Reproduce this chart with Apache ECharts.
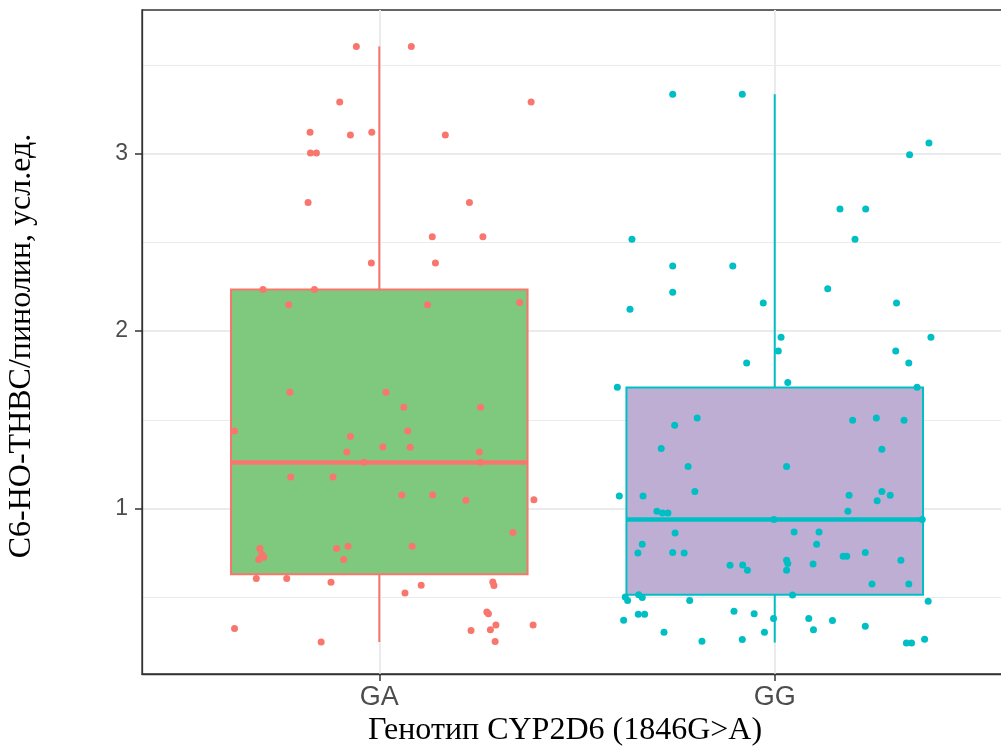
<!DOCTYPE html>
<html>
<head>
<meta charset="utf-8">
<title>CYP2D6 boxplot</title>
<script src="https://cdn.jsdelivr.net/npm/echarts@6/dist/echarts.min.js"></script>
<style>
  html, body { margin: 0; padding: 0; background: #fff; }
  #chart { width: 1001px; height: 749px; }
</style>
</head>
<body>
<div id="chart"></div>
<script>
// categories and tick labels
const categories = ['GA', 'GG']
const yTicks = [1, 2, 3]
const yMinorTicks = [0.5, 1.5, 2.5, 3.5]

// box stats: [lower whisker, Q1, median, Q3, upper whisker]
const boxGA = [0.248, 0.630, 1.259, 2.234, 3.604]
const boxGG = [0.245, 0.515, 0.938, 1.682, 3.334]

// jittered points, GA group (x position on the discrete scale, value)
const gaX = [0.942, 1.081, 0.900, 1.384, 0.825, 0.927, 0.981, 1.167, 0.826, 0.841,
  0.820, 1.228, 1.134, 1.262, 0.980, 1.142, 0.706, 0.836, 0.771, 1.122,
  1.355, 0.774, 1.017, 1.062, 1.256, 0.634, 0.927, 1.072, 1.009, 1.078,
  0.918, 1.253, 0.961, 1.256, 0.776, 0.883, 1.057, 1.135, 1.219, 1.391,
  1.338, 0.698, 0.703, 0.708, 0.695, 0.892, 0.921, 0.910, 1.083, 0.689,
  0.766, 0.878, 1.065, 1.106, 1.287, 1.290, 0.634, 0.853, 1.272, 1.276,
  1.232, 1.281, 1.295, 1.389, 1.293]
const gaY = [3.604, 3.604, 3.291, 3.291, 3.120, 3.105, 3.120, 3.105, 3.003, 3.003,
  2.724, 2.724, 2.532, 2.532, 2.384, 2.384, 2.234, 2.234, 2.149, 2.149,
  2.161, 1.655, 1.655, 1.571, 1.571, 1.437, 1.406, 1.437, 1.347, 1.345,
  1.319, 1.319, 1.261, 1.261, 1.178, 1.178, 1.077, 1.077, 1.047, 1.050,
  0.865, 0.775, 0.743, 0.726, 0.713, 0.775, 0.788, 0.713, 0.788, 0.606,
  0.606, 0.585, 0.525, 0.568, 0.586, 0.566, 0.324, 0.248, 0.417, 0.408,
  0.313, 0.318, 0.344, 0.344, 0.251]

// jittered points, GG group
const ggX = [1.742, 1.918, 2.390, 2.341, 2.165, 2.230, 1.639, 2.203, 1.742, 1.894,
  1.742, 2.134, 1.971, 2.308, 1.634, 2.016, 2.395, 2.009, 2.306, 1.929,
  2.339, 1.602, 2.033, 2.360, 1.804, 1.747, 2.197, 2.257, 2.327, 1.713,
  2.271, 1.781, 2.030, 1.607, 1.667, 1.798, 2.188, 2.271, 2.292, 2.259,
  1.702, 1.716, 1.730, 2.185, 1.998, 2.373, 1.748, 2.049, 2.112, 1.665,
  2.106, 1.654, 1.742, 1.771, 2.229, 2.173, 2.182, 1.887, 1.919, 1.931,
  2.030, 2.033, 2.030, 2.097, 2.319, 2.246, 2.339, 1.622, 1.628, 1.656,
  1.665, 1.785, 2.045, 2.388, 1.655, 1.671, 1.618, 1.897, 1.948, 1.997,
  2.086, 2.146, 2.098, 2.229, 1.720, 1.974, 1.816, 1.918, 2.333, 2.346,
  2.379]
const ggY = [3.334, 3.334, 3.060, 2.994, 2.688, 2.688, 2.517, 2.517, 2.367, 2.367,
  2.219, 2.239, 2.158, 2.158, 2.123, 1.965, 1.965, 1.888, 1.888, 1.820,
  1.820, 1.683, 1.710, 1.683, 1.510, 1.469, 1.497, 1.510, 1.497, 1.338,
  1.334, 1.237, 1.237, 1.071, 1.071, 1.096, 1.075, 1.096, 1.075, 1.044,
  0.985, 0.975, 0.975, 0.985, 0.938, 0.938, 0.863, 0.868, 0.868, 0.799,
  0.799, 0.750, 0.752, 0.750, 0.752, 0.731, 0.731, 0.681, 0.682, 0.652,
  0.709, 0.690, 0.652, 0.688, 0.709, 0.575, 0.575, 0.502, 0.482, 0.515,
  0.499, 0.482, 0.513, 0.478, 0.405, 0.405, 0.371, 0.421, 0.408, 0.380,
  0.380, 0.369, 0.318, 0.337, 0.303, 0.303, 0.252, 0.262, 0.243, 0.243,
  0.264]

const lineColors = ['#F8766D', '#00BFC4']
const fillColors = ['#7FC97F', '#BEAED4']

const zip = (xs, ys) => xs.map((x, i) => [x, ys[i]])

const chart = echarts.init(document.getElementById('chart'))

const axisFont = 'Liberation Sans, Arial, sans-serif'
const titleFont = 'Liberation Serif, Times New Roman, serif'

chart.setOption({
  backgroundColor: '#ffffff',
  animation: false,
  grid: {
    left: 142,
    top: 10,
    width: 870,
    height: 664,
    outerBoundsMode: 'none',
    show: true,
    borderColor: '#333333',
    borderWidth: 1.3,
    backgroundColor: '#ffffff'
  },
  xAxis: {
    type: 'value',
    min: 0.4,
    max: 2.6,
    axisLine: { show: true, onZero: false, lineStyle: { color: '#333333', width: 1.3 } },
    axisTick: { show: true, length: 7, customValues: [1, 2], lineStyle: { color: '#333333', width: 1.5 } },
    axisLabel: {
      customValues: [1, 2],
      formatter: v => categories[Math.round(v) - 1],
      fontSize: 27,
      color: '#4d4d4d',
      fontFamily: axisFont,
      margin: 10
    },
    splitLine: { show: true, lineStyle: { color: '#ebebeb', width: 2 } }
  },
  yAxis: [
    {
      type: 'value',
      min: 0.068,
      max: 3.809,
      axisLine: { show: true, onZero: false, lineStyle: { color: '#333333', width: 1.3 } },
      axisTick: { show: true, length: 7, customValues: yTicks, lineStyle: { color: '#333333', width: 1.5 } },
      axisLabel: {
        customValues: yTicks,
        fontSize: 23,
        color: '#4d4d4d',
        fontFamily: axisFont,
        margin: 14
      },
      splitLine: { show: true, lineStyle: { color: '#ebebeb', width: 2 } }
    },
    {
      // only used for the minor grid lines
      type: 'value',
      min: 0.068,
      max: 3.809,
      axisLine: { show: false },
      axisTick: { show: false, customValues: yMinorTicks },
      axisLabel: { show: false, customValues: yMinorTicks },
      splitLine: { show: true, lineStyle: { color: '#ebebeb', width: 1 } }
    }
  ],
  graphic: [
    {
      type: 'text',
      x: 565,
      y: 731,
      style: {
        text: 'Генотип CYP2D6 (1846G>A)',
        font: '32px ' + titleFont,
        fill: '#000000',
        align: 'center',
        verticalAlign: 'middle'
      }
    },
    {
      type: 'text',
      x: 22,
      y: 346,
      rotation: Math.PI / 2,
      style: {
        text: 'C6-HO-THBC/пинолин, усл.ед.',
        font: '32px ' + titleFont,
        fill: '#000000',
        align: 'center',
        verticalAlign: 'middle'
      }
    }
  ],
  series: [
    {
      type: 'custom',
      data: [[1].concat(boxGA), [2].concat(boxGG)],
      encode: { x: 0, y: [1, 2, 3, 4, 5] },
      renderItem: (params, api) => {
        const i = api.value(0)
        const idx = params.dataIndex
        const half = 0.375
        const lo = api.coord([i, api.value(1)])
        const q1 = api.coord([i - half, api.value(2)])
        const med = api.coord([i - half, api.value(3)])
        const medR = api.coord([i + half, api.value(3)])
        const q3 = api.coord([i - half, api.value(4)])
        const q3R = api.coord([i + half, api.value(4)])
        const hi = api.coord([i, api.value(5)])
        const cx = lo[0]
        const stroke = lineColors[idx]
        return {
          type: 'group',
          children: [
            {
              type: 'line',
              shape: { x1: cx, y1: q3[1], x2: cx, y2: hi[1] },
              style: { stroke: stroke, lineWidth: 2 }
            },
            {
              type: 'line',
              shape: { x1: cx, y1: q1[1], x2: cx, y2: lo[1] },
              style: { stroke: stroke, lineWidth: 2 }
            },
            {
              type: 'rect',
              shape: { x: q3[0], y: q3[1], width: q3R[0] - q3[0], height: q1[1] - q3[1] },
              style: { fill: fillColors[idx], stroke: stroke, lineWidth: 2 }
            },
            {
              type: 'line',
              shape: { x1: med[0], y1: med[1], x2: medR[0], y2: medR[1] },
              style: { stroke: stroke, lineWidth: 4.5 }
            }
          ]
        }
      }
    },
    {
      type: 'scatter',
      data: zip(gaX, gaY),
      symbolSize: 7,
      itemStyle: { color: lineColors[0], opacity: 1 }
    },
    {
      type: 'scatter',
      data: zip(ggX, ggY),
      symbolSize: 7,
      itemStyle: { color: lineColors[1], opacity: 1 }
    }
  ]
})
</script>
</body>
</html>
